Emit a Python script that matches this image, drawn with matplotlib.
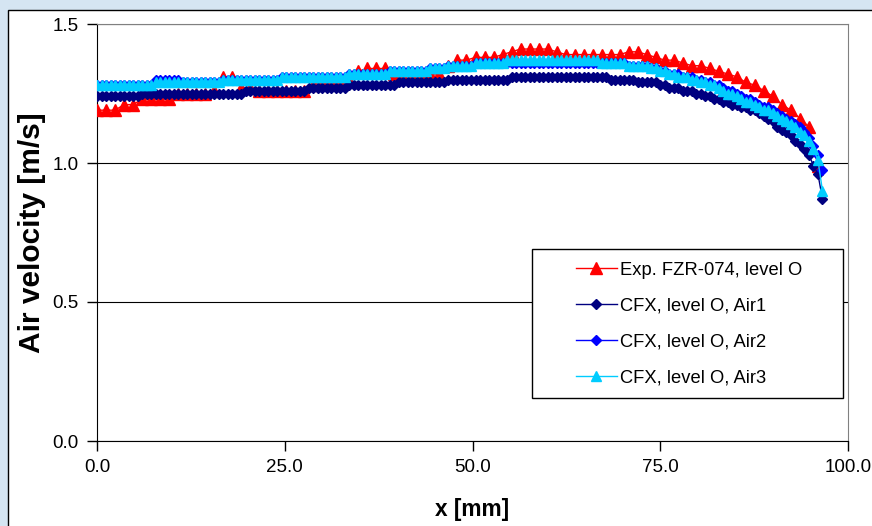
import numpy as np
import matplotlib
matplotlib.use("Agg")
from matplotlib import pyplot as plt
from matplotlib.patches import Rectangle

plt.rcParams['font.family'] = ['Liberation Sans', 'DejaVu Sans']

# measurement points (1.2 mm step) and CFX points (0.6 mm step)
x_exp = np.round(np.arange(0, 96.1, 1.2), 1)
x_cfx = np.round(np.arange(0, 96.7, 0.6), 1)

exp_fzr = [1.19, 1.19, 1.19, 1.21, 1.21, 1.23, 1.23, 1.23, 1.23, 1.25,
           1.25, 1.25, 1.25, 1.26, 1.31, 1.31, 1.27, 1.27, 1.26, 1.26,
           1.26, 1.26, 1.26, 1.26, 1.28, 1.30, 1.30, 1.30, 1.30, 1.33,
           1.34, 1.34, 1.34, 1.32, 1.31, 1.31, 1.32, 1.32, 1.32, 1.35,
           1.37, 1.37, 1.38, 1.38, 1.38, 1.39, 1.40, 1.41, 1.41, 1.41,
           1.41, 1.40, 1.39, 1.39, 1.39, 1.39, 1.39, 1.39, 1.39, 1.40,
           1.40, 1.39, 1.38, 1.37, 1.37, 1.36, 1.35, 1.35, 1.34, 1.33,
           1.32, 1.31, 1.29, 1.28, 1.26, 1.24, 1.21, 1.19, 1.16, 1.13,
           0.99]

air1 = [1.24, 1.24, 1.24, 1.24, 1.24, 1.24, 1.24, 1.24, 1.24, 1.24,
        1.25, 1.25, 1.25, 1.25, 1.25, 1.25, 1.25, 1.25, 1.25, 1.25,
        1.25, 1.25, 1.25, 1.25, 1.25, 1.25, 1.25, 1.25, 1.25, 1.25,
        1.25, 1.25, 1.25, 1.26, 1.26, 1.26, 1.26, 1.26, 1.26, 1.26,
        1.26, 1.26, 1.26, 1.26, 1.26, 1.26, 1.26, 1.27, 1.27, 1.27,
        1.27, 1.27, 1.27, 1.27, 1.27, 1.27, 1.28, 1.28, 1.28, 1.28,
        1.28, 1.28, 1.28, 1.28, 1.28, 1.28, 1.28, 1.29, 1.29, 1.29,
        1.29, 1.29, 1.29, 1.29, 1.29, 1.29, 1.29, 1.29, 1.30, 1.30,
        1.30, 1.30, 1.30, 1.30, 1.30, 1.30, 1.30, 1.30, 1.30, 1.30,
        1.30, 1.30, 1.31, 1.31, 1.31, 1.31, 1.31, 1.31, 1.31, 1.31,
        1.31, 1.31, 1.31, 1.31, 1.31, 1.31, 1.31, 1.31, 1.31, 1.31,
        1.31, 1.31, 1.31, 1.31, 1.30, 1.30, 1.30, 1.30, 1.30, 1.30,
        1.29, 1.29, 1.29, 1.29, 1.29, 1.28, 1.28, 1.27, 1.27, 1.27,
        1.26, 1.26, 1.26, 1.25, 1.25, 1.24, 1.24, 1.23, 1.23, 1.22,
        1.22, 1.21, 1.21, 1.20, 1.20, 1.19, 1.19, 1.18, 1.17, 1.16,
        1.15, 1.13, 1.12, 1.11, 1.10, 1.08, 1.07, 1.05, 1.03, 0.99,
        0.96, 0.87]

air2 = [1.28, 1.28, 1.28, 1.28, 1.28, 1.28, 1.28, 1.28, 1.28, 1.28,
        1.28, 1.28, 1.28, 1.30, 1.30, 1.30, 1.30, 1.30, 1.30, 1.29,
        1.29, 1.29, 1.29, 1.29, 1.29, 1.29, 1.29, 1.29, 1.30, 1.30,
        1.30, 1.30, 1.30, 1.30, 1.30, 1.30, 1.30, 1.30, 1.30, 1.30,
        1.30, 1.31, 1.31, 1.31, 1.31, 1.31, 1.31, 1.31, 1.31, 1.31,
        1.31, 1.31, 1.31, 1.31, 1.31, 1.31, 1.32, 1.32, 1.32, 1.32,
        1.32, 1.32, 1.32, 1.32, 1.32, 1.33, 1.33, 1.33, 1.33, 1.33,
        1.33, 1.33, 1.33, 1.33, 1.34, 1.34, 1.34, 1.34, 1.35, 1.35,
        1.35, 1.35, 1.35, 1.35, 1.36, 1.36, 1.36, 1.36, 1.36, 1.36,
        1.36, 1.36, 1.36, 1.36, 1.36, 1.36, 1.36, 1.36, 1.36, 1.36,
        1.36, 1.36, 1.36, 1.36, 1.36, 1.36, 1.36, 1.36, 1.36, 1.36,
        1.36, 1.36, 1.36, 1.36, 1.36, 1.36, 1.36, 1.36, 1.35, 1.35,
        1.35, 1.35, 1.35, 1.34, 1.34, 1.33, 1.33, 1.32, 1.32, 1.32,
        1.31, 1.31, 1.31, 1.30, 1.30, 1.29, 1.29, 1.28, 1.28, 1.27,
        1.26, 1.26, 1.25, 1.24, 1.23, 1.23, 1.22, 1.21, 1.20, 1.20,
        1.19, 1.18, 1.17, 1.16, 1.15, 1.14, 1.13, 1.11, 1.09, 1.06,
        1.03, 0.975]

air3 = [1.28, 1.28, 1.28, 1.28, 1.28, 1.28, 1.28, 1.28, 1.28, 1.28,
        1.28, 1.28, 1.28, 1.29, 1.29, 1.29, 1.29, 1.29, 1.29, 1.29,
        1.29, 1.29, 1.29, 1.29, 1.29, 1.29, 1.29, 1.29, 1.30, 1.30,
        1.30, 1.30, 1.30, 1.30, 1.30, 1.30, 1.30, 1.30, 1.30, 1.30,
        1.30, 1.31, 1.31, 1.31, 1.31, 1.31, 1.31, 1.31, 1.31, 1.31,
        1.31, 1.31, 1.31, 1.31, 1.31, 1.31, 1.32, 1.32, 1.32, 1.32,
        1.32, 1.32, 1.32, 1.32, 1.32, 1.33, 1.33, 1.33, 1.33, 1.33,
        1.33, 1.33, 1.33, 1.33, 1.34, 1.34, 1.34, 1.34, 1.35, 1.35,
        1.35, 1.35, 1.35, 1.35, 1.36, 1.36, 1.36, 1.36, 1.36, 1.36,
        1.36, 1.37, 1.37, 1.37, 1.37, 1.37, 1.37, 1.37, 1.37, 1.37,
        1.37, 1.37, 1.37, 1.37, 1.37, 1.37, 1.37, 1.37, 1.37, 1.37,
        1.37, 1.37, 1.36, 1.36, 1.36, 1.36, 1.36, 1.36, 1.35, 1.35,
        1.35, 1.35, 1.35, 1.34, 1.34, 1.33, 1.33, 1.32, 1.32, 1.31,
        1.31, 1.31, 1.30, 1.30, 1.29, 1.29, 1.28, 1.28, 1.27, 1.26,
        1.25, 1.25, 1.24, 1.23, 1.22, 1.22, 1.21, 1.20, 1.19, 1.19,
        1.18, 1.17, 1.16, 1.15, 1.14, 1.13, 1.11, 1.10, 1.08, 1.05,
        1.01, 0.90]

fig = plt.figure(figsize=(8.72, 5.26), dpi=100, facecolor='#d5e5f2')
# white chart area with black border, behind the axes
frame = Rectangle((8 / 872, -0.1), 1.0, 1.1 - 10 / 526, transform=fig.transFigure,
                  facecolor='white', edgecolor='black', linewidth=1.0, zorder=-10)
fig.add_artist(frame)

ax = fig.add_axes([97 / 872, 85 / 526, 751 / 872, 417 / 526])
ax.set_facecolor('white')

ax.plot(x_exp, exp_fzr, color='#ff0000', marker='^', markersize=8, linewidth=1,
        label='Exp. FZR-074, level O', zorder=3)
ax.plot(x_cfx, air1, color='#000080', marker='D', markersize=5, linewidth=1,
        label='CFX, level O, Air1', zorder=3)
ax.plot(x_cfx, air2, color='#0000ff', marker='D', markersize=5, linewidth=1,
        label='CFX, level O, Air2', zorder=3)
ax.plot(x_cfx, air3, color='#00ccff', marker='^', markersize=7.5, linewidth=1,
        label='CFX, level O, Air3', zorder=3)

ax.set_xlim(0, 100)
ax.set_ylim(0, 1.5)
ax.set_xticks([0, 25, 50, 75, 100])
ax.set_yticks([0, 0.5, 1.0, 1.5])
ax.xaxis.set_major_formatter('{x:.1f}')
ax.yaxis.set_major_formatter('{x:.1f}')
ax.tick_params(direction='out', length=7, width=1, pad=6, labelsize=13.5)
ax.yaxis.grid(True, color='black', linewidth=0.8)
ax.set_axisbelow(True)
for s in ['top', 'right']:
    ax.spines[s].set_color('#808080')
for s in ['left', 'bottom']:
    ax.spines[s].set_color('black')

ax.set_xlabel('x [mm]', fontsize=16.3, fontweight='bold', labelpad=16)
ax.set_ylabel('Air velocity [m/s]', fontsize=21.5, fontweight='bold', labelpad=5)

# opaque legend box
ax.add_patch(Rectangle((532 / 872, 1 - 398 / 526), 311 / 872, 149 / 526, transform=fig.transFigure,
                       facecolor='white', edgecolor='black', linewidth=1.0, zorder=4, clip_on=False))
leg = ax.legend(loc='upper left', bbox_to_anchor=(563 / 872, 1 - 249 / 526),
                bbox_transform=fig.transFigure, frameon=False, fontsize=13.2,
                handlelength=2.25, handletextpad=0.15, labelspacing=1.03, borderpad=0.2)
leg.set_zorder(5)

fig.savefig('out.png', dpi=100, facecolor=fig.get_facecolor())
